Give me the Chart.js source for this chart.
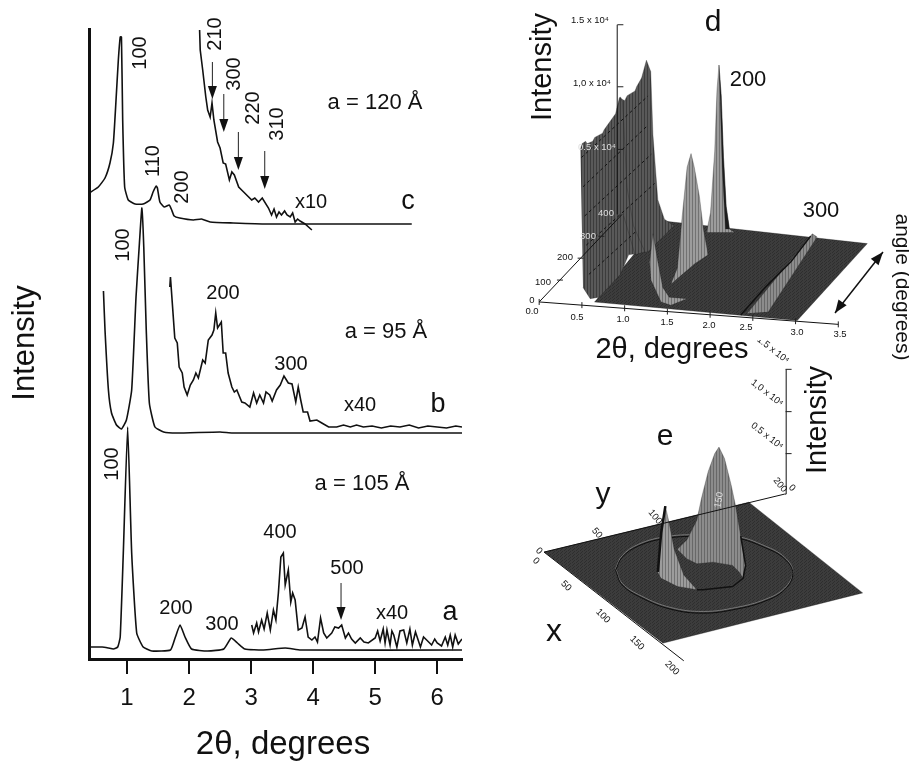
<!DOCTYPE html>
<html>
<head>
<meta charset="utf-8">
<title>Diffraction patterns</title>
<script src="https://cdn.jsdelivr.net/npm/chart.js@4"></script>
<style>
    body { margin: 0; background: #fff; }
    canvas { position: absolute; }
</style>
</head>
<body>
<canvas id="grafica-izq" width="500" height="764" style="left:0;top:0"></canvas>
<canvas id="grafica-d" width="409" height="380" style="left:500px;top:0"></canvas>
<canvas id="grafica-e" width="409" height="360" style="left:500px;top:340px"></canvas>
<script>
// panel izquierdo: 2theta (grados) e intensidad en unidades arbitrarias, curvas desplazadas
const ticks2theta = [1, 2, 3, 4, 5, 6];

const aX = [0.39, 0.6, 0.7, 0.78, 0.85, 0.89, 0.94, 1.01, 1.075, 1.156, 1.26, 1.4, 1.7, 1.78, 1.855, 1.935, 2.04, 2.3, 2.56, 2.68, 2.78, 2.9, 3.2, 3.55, 3.8, 6.4];
const aY = [12, 12, 11, 10, 12, 22, 106, 232, 106, 26, 12, 8, 9, 22, 34, 22, 10, 8, 10, 21, 16, 10, 9, 11, 9, 9];

const aX40 = [3.01, 3.04, 3.09, 3.12, 3.17, 3.21, 3.26, 3.31, 3.36, 3.40, 3.44, 3.48, 3.52, 3.55, 3.60, 3.64, 3.67, 3.71, 3.76, 3.82, 3.87, 3.92, 3.98, 4.03, 4.07, 4.12, 4.17, 4.22, 4.30, 4.35, 4.41, 4.46, 4.52, 4.57, 4.62, 4.68, 4.76, 4.82, 4.89, 5.0, 5.04, 5.08, 5.13, 5.16, 5.19, 5.24, 5.27, 5.30, 5.35, 5.40, 5.46, 5.51, 5.56, 5.60, 5.65, 5.73, 5.78, 5.83, 5.91, 5.96, 6.0, 6.07, 6.13, 6.17, 6.21, 6.25, 6.29, 6.34, 6.40];
const aY40 = [34, 26, 36, 27, 39, 30, 46, 29, 49, 39, 66, 102, 106, 74, 89, 57, 66, 59, 29, 31, 42, 22, 19, 22, 17, 41, 26, 21, 26, 32, 31, 34, 21, 26, 20, 16, 21, 17, 16, 21, 28, 18, 30, 16, 29, 14, 28, 24, 12, 28, 29, 16, 30, 14, 27, 12, 22, 19, 14, 20, 16, 13, 22, 14, 24, 12, 24, 15, 20];

const bX = [0.62, 0.645, 0.70, 0.75, 0.83, 0.91, 0.99, 1.075, 1.145, 1.2, 1.24, 1.27, 1.31, 1.36, 1.45, 1.59, 1.8, 2.5, 2.7, 6.4];
const bY = [368, 329, 269, 246, 234, 230, 239, 269, 362, 416, 451, 412, 329, 256, 232, 227, 226, 227, 226, 226];

const bX40 = [1.69, 1.70, 1.77, 1.81, 1.84, 1.89, 1.92, 1.97, 2.02, 2.07, 2.11, 2.15, 2.22, 2.26, 2.31, 2.37, 2.40, 2.43, 2.46, 2.52, 2.55, 2.59, 2.63, 2.69, 2.73, 2.77, 2.85, 2.90, 2.98, 3.04, 3.09, 3.14, 3.20, 3.24, 3.30, 3.34, 3.41, 3.47, 3.53, 3.60, 3.66, 3.72, 3.76, 3.80, 3.84, 3.91, 3.95, 4.06, 4.14, 4.25, 4.38, 4.49, 4.60, 4.70, 4.81, 4.95, 5.10, 5.25, 5.40, 5.55, 5.70, 5.85, 6.0, 6.15, 6.30, 6.40];
const bY40 = [372, 382, 321, 316, 292, 286, 272, 264, 274, 279, 286, 281, 299, 296, 319, 324, 329, 346, 331, 337, 306, 306, 286, 272, 267, 269, 257, 256, 252, 266, 256, 264, 256, 267, 264, 258, 269, 274, 283, 276, 275, 257, 272, 259, 247, 247, 238, 239, 236, 232, 232, 234, 232, 234, 232, 233, 231, 233, 232, 234, 231, 233, 232, 231, 233, 232];

const cX = [0.39, 0.537, 0.645, 0.725, 0.78, 0.82, 0.86, 0.89, 0.91, 0.93, 0.962, 1.02, 1.13, 1.26, 1.37, 1.42, 1.47, 1.49, 1.53, 1.6, 1.68, 1.72, 1.76, 1.85, 2.07, 2.2, 2.34, 2.71, 3.25, 5.59];
const cY = [466, 472, 481, 496, 516, 556, 599, 622, 622, 539, 472, 459, 455, 455, 459, 467, 473, 471, 457, 452, 454, 449, 443, 441, 439, 440, 437, 436, 435, 435];

const cX10 = [2.17, 2.18, 2.22, 2.27, 2.3, 2.34, 2.37, 2.40, 2.46, 2.5, 2.55, 2.59, 2.65, 2.69, 2.73, 2.8, 2.88, 3.01, 3.06, 3.12, 3.18, 3.28, 3.33, 3.37, 3.41, 3.45, 3.49, 3.54, 3.58, 3.63, 3.67, 3.71, 3.75, 3.79, 3.87, 3.98];
const cY10 = [629, 609, 589, 562, 549, 542, 556, 539, 517, 511, 496, 495, 479, 487, 484, 472, 467, 459, 461, 457, 461, 451, 444, 450, 442, 447, 444, 448, 444, 442, 446, 437, 440, 438, 435, 429];

// flechas de reflexiones: posicion 2theta, intensidad inicial y final
const flechaX = [2.376, 2.56, 2.795, 3.22, 4.45];
const flechaDesde = [597, 565, 527, 508, 76];
const flechaHasta = [560, 527, 489, 470, 39];

// panel d: proyeccion de la superficie sobre 2theta (grados) / intensidad (x 10^4)
const planoDX = [0.646, 3.02, 3.84, 1.43];
const planoDY = [0, -0.146, 0.461, 0.641];
const paredX = [0.483, 0.50, 0.544, 0.56, 0.627, 0.65, 0.742, 0.76, 0.894, 0.939, 1.0, 1.03, 1.122, 1.14, 1.198, 1.255, 1.305, 1.331, 1.388, 1.465, 1.579, 1.274, 1.046, 0.951, 0.703, 0.597, 0.513];
const paredY = [1.205, 1.25, 1.269, 1.25, 1.269, 1.30, 1.333, 1.36, 1.487, 1.615, 1.590, 1.63, 1.667, 1.70, 1.769, 1.910, 1.820, 1.320, 0.808, 0.654, 0.602, 0.397, 0.372, 0.218, 0.038, 0.026, 0.115];
const ribeteX = [0.913, 0.951, 0.977, 1.027, 1.103, 1.236, 1.122, 0.989];
const ribeteY = [1.525, 1.620, 1.577, 0.910, 0.602, 0.397, 0.372, 0.679];
const picoAX = [1.959, 2.005, 2.054, 2.081, 2.104, 2.130, 2.157, 2.188, 2.226, 2.283];
const picoAY = [0.551, 0.705, 1.192, 1.679, 1.872, 1.628, 1.141, 0.756, 0.577, 0.551];
const sombraAX = [2.104, 2.130, 2.157, 2.188, 2.226, 2.180, 2.142, 2.119];
const sombraAY = [1.872, 1.628, 1.141, 0.756, 0.577, 0.577, 1.064, 1.577];
const picoBX = [1.541, 1.617, 1.674, 1.731, 1.777, 1.815, 1.875, 1.921, 1.978, 1.807];
const picoBY = [0.141, 0.269, 0.679, 1.064, 1.172, 1.064, 0.833, 0.577, 0.372, 0.295];
const picoCX = [1.293, 1.331, 1.381, 1.446, 1.522, 1.731, 1.541, 1.426, 1.312];
const picoCY = [0.320, 0.538, 0.346, 0.115, 0.038, 0.026, -0.026, 0, 0.167];
const cresta300X = [2.435, 3.196, 3.253, 2.682];
const cresta300Y = [-0.090, 0.538, 0.513, -0.077];
const borde300X = [2.359, 2.644, 2.948, 3.177];
const borde300Y = [-0.103, 0.115, 0.320, 0.520];
const ticksDX = [0, 0.5, 1, 1.5, 2, 2.5, 3, 3.5];
const ticksDY = [0, -0.025, -0.05, -0.076, -0.101, -0.126, -0.152, -0.177];
const ticksAnguloX = [0.243, 0.485, 0.728];
const ticksAnguloY = [0.173, 0.346, 0.519];
const ticksIntensidad = [1.205, 1.70, 2.19];
// curvas de nivel discontinuas sobre la pared
const nivelesX = [[0.494, 1.274], [0.513, 1.274], [0.532, 1.312], [0.551, 1.350], [0.582, 1.122]];
const nivelesY = [[1.141, 1.628], [0.910, 1.397], [0.679, 1.167], [0.449, 0.936], [0.218, 0.551]];

// panel e: posicion proyectada en el plano x-y / intensidad (x 10^4)
const planoEX = [0, 170, 264.5, 98.5];
const planoEY = [0, 0.597, -0.488, -1.09];
const anilloX = [59.4, 64.8, 78.3, 99.9, 126.9, 159.2, 183.5, 199.7, 206.5, 199.7, 183.5, 159.2, 132.2, 105.3, 81, 64.8, 59.4];
const anilloY = [-0.198, -0.043, 0.093, 0.182, 0.209, 0.190, 0.073, -0.062, -0.237, -0.430, -0.566, -0.663, -0.710, -0.663, -0.527, -0.372, -0.198];
const picoGrandeX = [110.7, 118.8, 126.9, 130.9, 136.3, 141.7, 145.2, 149.8, 155.2, 159.2, 163.3, 167.3, 165.2, 161.9, 156.5, 140.3, 126.9, 118.8];
const picoGrandeY = [0.035, 0.151, 0.384, 0.655, 0.965, 1.178, 1.256, 1.120, 0.810, 0.539, 0.190, -0.159, -0.314, -0.237, -0.159, -0.120, -0.140, -0.082];
const picoChicoX = [94.5, 97.2, 100.7, 103.9, 108, 116, 126.9, 110.7, 97.2];
const picoChicoY = [-0.237, 0.228, 0.550, 0.345, 0.035, -0.275, -0.450, -0.411, -0.314];
const filoChicoX = [94.5, 97.2, 100.7];
const filoChicoY = [-0.237, 0.228, 0.550];
const filoGrandeX = [163.3, 167.3, 165.2, 156.5, 132, 126.9];
const filoGrandeY = [0.190, -0.159, -0.314, -0.411, -0.450, -0.450];
const ejeEX = [116, 0, 199.7, 201, 201];
const ejeEY = [-1.3, 0, 0.694, 0.694, 2.186];
const ticksEIntensidad = [1.178, 1.68, 2.186];

const FUENTE = '"Liberation Sans", Arial, sans-serif';

const puntos = (xs, ys) => xs.map((x, i) => ({ x, y: ys[i] }));

function trama(fondo, raya, ancho, alto, dibujar) {
    const c = document.createElement('canvas');
    c.width = ancho;
    c.height = alto;
    const g = c.getContext('2d');
    g.fillStyle = fondo;
    g.fillRect(0, 0, ancho, alto);
    g.fillStyle = raya;
    dibujar(g);
    return g.createPattern(c, 'repeat');
}

const tramaOscura = trama('#3c3c3c', '#2e2e2e', 4, 3, g => { g.fillRect(0, 0, 1, 1); g.fillRect(2, 1, 1, 1); g.fillRect(1, 2, 1, 1); });
const tramaPared = trama('#595959', '#3c3c3c', 3, 3, g => { g.fillRect(0, 0, 1, 3); });
const tramaClara = trama('#9c9c9c', '#727272', 3, 3, g => { g.fillRect(0, 0, 1, 3); });
const tramaMedia = trama('#8c8c8c', '#686868', 3, 3, g => { g.fillRect(0, 0, 1, 3); });

function curva(xs, ys, ancho, tension) {
    return { data: puntos(xs, ys), borderColor: '#111', borderWidth: ancho, pointRadius: 0, tension: tension || 0, fill: false };
}

function poligono(xs, ys, relleno) {
    return { data: puntos(xs, ys), borderColor: 'rgba(30,30,30,0.6)', borderWidth: 0.5, backgroundColor: relleno, fill: 'shape', pointRadius: 0, tension: 0 };
}

function marcas(xs, ys, giro) {
    return { data: puntos(xs, ys), showLine: false, pointStyle: 'line', pointRadius: 3, pointRotation: giro, pointBorderColor: '#222', pointBorderWidth: 1 };
}

function textos(lista) {
    return {
        id: 'textos',
        afterDraw(chart) {
            const ctx = chart.ctx;
            lista.forEach(t => {
                ctx.save();
                ctx.translate(t.x, t.y);
                ctx.rotate((t.giro || 0) * Math.PI / 180);
                ctx.font = `${t.size}px ${FUENTE}`;
                ctx.fillStyle = t.color || '#111';
                ctx.textAlign = 'center';
                ctx.textBaseline = 'middle';
                ctx.fillText(t.txt, 0, 0);
                ctx.restore();
            });
        }
    };
}

function punta(ctx, x0, y0, x1, y1, largo, medio) {
    const a = Math.atan2(y1 - y0, x1 - x0);
    ctx.save();
    ctx.translate(x1, y1);
    ctx.rotate(a);
    ctx.beginPath();
    ctx.moveTo(0, 0);
    ctx.lineTo(-largo, -medio);
    ctx.lineTo(-largo, medio);
    ctx.closePath();
    ctx.fill();
    ctx.restore();
}

const flechasIzq = {
    id: 'flechas',
    afterDatasetsDraw(chart) {
        const { ctx, scales } = chart;
        ctx.save();
        ctx.strokeStyle = '#222';
        ctx.fillStyle = '#111';
        ctx.lineWidth = 1;
        flechaX.forEach((v, i) => {
            const x = scales.x.getPixelForValue(v);
            const y0 = scales.y.getPixelForValue(flechaDesde[i]);
            const y1 = scales.y.getPixelForValue(flechaHasta[i]);
            ctx.beginPath();
            ctx.moveTo(x, y0);
            ctx.lineTo(x, y1 - 8);
            ctx.stroke();
            punta(ctx, x, y0, x, y1, 13, 4.5);
        });
        ctx.restore();
    }
};

const flechaAngulo = {
    id: 'flechaAngulo',
    afterDatasetsDraw(chart) {
        const ctx = chart.ctx;
        ctx.save();
        ctx.strokeStyle = '#111';
        ctx.fillStyle = '#111';
        ctx.lineWidth = 1.5;
        ctx.beginPath();
        ctx.moveTo(335, 313);
        ctx.lineTo(383, 252);
        ctx.stroke();
        punta(ctx, 340, 306, 335, 313, 13, 5);
        punta(ctx, 378, 258, 383, 252, 13, 5);
        ctx.restore();
    }
};

const opcionesBase = {
    responsive: false,
    animation: false,
    events: [],
    plugins: { legend: { display: false }, tooltip: { enabled: false } }
};

new Chart(document.getElementById('grafica-izq').getContext('2d'), {
    type: 'line',
    data: {
        datasets: [
            curva(cX, cY, 1.6, 0.15),
            curva(cX10, cY10, 1.6),
            curva(bX, bY, 1.6, 0.15),
            curva(bX40, bY40, 1.6),
            curva(aX, aY, 1.6, 0.15),
            curva(aX40, aY40, 1.6)
        ]
    },
    options: {
        ...opcionesBase,
        layout: { padding: { left: 89, right: 38, top: 29, bottom: 0 } },
        scales: {
            x: {
                type: 'linear',
                min: 0.387,
                max: 6.4,
                afterFit: s => { s.height = 105; },
                afterBuildTicks: s => { s.ticks = ticks2theta.map(v => ({ value: v })); },
                border: { color: '#111', width: 3 },
                grid: { drawOnChartArea: false, tickLength: 15, color: '#111', lineWidth: 2 },
                ticks: { color: '#111', font: { family: FUENTE, size: 24 }, padding: 10, maxRotation: 0, autoSkip: false }
            },
            y: {
                min: 0,
                max: 630,
                afterFit: s => { s.width = 0; },
                border: { color: '#111', width: 3 },
                grid: { display: false },
                ticks: { display: false }
            }
        }
    },
    plugins: [flechasIzq, textos([
        { txt: 'Intensity', x: 25, y: 343, size: 31, giro: -90 },
        { txt: '2θ, degrees', x: 283, y: 745, size: 33 },
        { txt: '100', x: 140, y: 53, size: 20, giro: -90 },
        { txt: '210', x: 215, y: 34, size: 20, giro: -90 },
        { txt: '300', x: 234, y: 74, size: 20, giro: -90 },
        { txt: '220', x: 253, y: 108, size: 20, giro: -90 },
        { txt: '310', x: 277, y: 124, size: 20, giro: -90 },
        { txt: '110', x: 153, y: 161, size: 20, giro: -90 },
        { txt: '200', x: 182, y: 187, size: 20, giro: -90 },
        { txt: 'x10', x: 311, y: 202, size: 20 },
        { txt: 'c', x: 408, y: 202, size: 27 },
        { txt: 'a = 120 Å', x: 375, y: 103, size: 22 },
        { txt: '100', x: 123, y: 245, size: 20, giro: -90 },
        { txt: '200', x: 223, y: 293, size: 20 },
        { txt: '300', x: 291, y: 364, size: 20 },
        { txt: 'a = 95 Å', x: 386, y: 332, size: 22 },
        { txt: 'x40', x: 360, y: 405, size: 20 },
        { txt: 'b', x: 438, y: 405, size: 27 },
        { txt: '100', x: 112, y: 464, size: 20, giro: -90 },
        { txt: 'a = 105 Å', x: 362, y: 484, size: 22 },
        { txt: '400', x: 280, y: 532, size: 20 },
        { txt: '500', x: 347, y: 568, size: 20 },
        { txt: 'x40', x: 392, y: 613, size: 20 },
        { txt: 'a', x: 450, y: 613, size: 27 },
        { txt: '200', x: 176, y: 608, size: 20 },
        { txt: '300', x: 222, y: 624, size: 20 }
    ])]
});

const nivelesD = nivelesX.map((xs, i) => ({
    ...curva(xs, nivelesY[i], 1),
    borderDash: [3, 3]
}));

// Chart.js pinta el primer dataset encima: se invierte para listar de fondo a frente
new Chart(document.getElementById('grafica-d').getContext('2d'), {
    type: 'line',
    data: {
        datasets: [
            poligono(planoDX, planoDY, tramaOscura),
            poligono(cresta300X, cresta300Y, tramaMedia),
            curva(borde300X, borde300Y, 1.5),
            poligono(paredX, paredY, tramaPared),
            poligono(ribeteX, ribeteY, tramaPared),
            ...nivelesD,
            poligono(picoAX, picoAY, tramaClara),
            poligono(sombraAX, sombraAY, '#1c1c1c'),
            poligono(picoBX, picoBY, tramaClara),
            poligono(picoCX, picoCY, tramaClara),
            curva([0, 3.5], [0, -0.177], 1),
            curva([0, 0.97], [0, 0.692], 1),
            curva([0.913, 0.913], [0.692, 2.19], 1),
            marcas(ticksDX, ticksDY, 90),
            marcas(ticksAnguloX, ticksAnguloY, 0),
            marcas(ticksIntensidad.map(() => 0.95), ticksIntensidad, 0)
        ].reverse()
    },
    options: {
        ...opcionesBase,
        scales: {
            x: { type: 'linear', display: false, min: -0.4, max: 4.269 },
            y: { display: false, min: -0.577, max: 2.346 }
        }
    },
    plugins: [flechaAngulo, textos([
        { txt: 'Intensity', x: 43, y: 67, size: 29, giro: -90 },
        { txt: 'd', x: 213, y: 23, size: 30 },
        { txt: '200', x: 248, y: 80, size: 22 },
        { txt: '300', x: 321, y: 211, size: 22 },
        { txt: '2θ, degrees', x: 172, y: 350, size: 29 },
        { txt: 'angle (degrees)', x: 402, y: 287, size: 21, giro: 90 },
        { txt: '1.5 x 10⁴', x: 90, y: 20, size: 9.5 },
        { txt: '1,0 x 10⁴', x: 92, y: 83, size: 9.5 },
        { txt: '0.5 x 10⁴', x: 97, y: 147, size: 9.5, color: '#ddd' },
        { txt: '400', x: 106, y: 213, size: 9.5, color: '#ddd' },
        { txt: '300', x: 88, y: 236, size: 9.5, color: '#ddd' },
        { txt: '200', x: 65, y: 257, size: 9.5 },
        { txt: '100', x: 43, y: 282, size: 9.5 },
        { txt: '0', x: 32, y: 300, size: 9.5 },
        { txt: '0.0', x: 32, y: 311, size: 9.5 },
        { txt: '0.5', x: 77, y: 317, size: 9.5 },
        { txt: '1.0', x: 123, y: 319, size: 9.5 },
        { txt: '1.5', x: 167, y: 322, size: 9.5 },
        { txt: '2.0', x: 209, y: 325, size: 9.5 },
        { txt: '2.5', x: 246, y: 327, size: 9.5 },
        { txt: '3.0', x: 297, y: 332, size: 9.5 },
        { txt: '3.5', x: 340, y: 334, size: 9.5 }
    ])]
});

new Chart(document.getElementById('grafica-e').getContext('2d'), {
    type: 'line',
    data: {
        datasets: [
            poligono(planoEX, planoEY, tramaOscura),
            { ...curva(anilloX, anilloY, 1, 0.4), borderColor: '#777' },
            { ...curva(anilloX, anilloY.map(v => v - 0.02), 1, 0.4), borderColor: '#0c0c0c' },
            poligono(picoGrandeX, picoGrandeY, tramaMedia),
            poligono(picoChicoX, picoChicoY, tramaClara),
            curva(filoChicoX, filoChicoY, 2.5),
            curva(filoGrandeX, filoGrandeY, 1.5),
            curva(ejeEX, ejeEY, 1),
            marcas(ticksEIntensidad.map(() => 203), ticksEIntensidad, 0)
        ].reverse()
    },
    options: {
        ...opcionesBase,
        scales: {
            x: { type: 'linear', display: false, min: -32.4, max: 298.8 },
            y: { display: false, min: -1.709, max: 2.477 }
        }
    },
    plugins: [textos([
        { txt: 'Intensity', x: 318, y: 80, size: 29, giro: -90 },
        { txt: 'e', x: 165, y: 97, size: 30 },
        { txt: 'y', x: 103, y: 155, size: 30 },
        { txt: 'x', x: 54, y: 292, size: 32 },
        { txt: '1.5 x 10⁴', x: 273, y: 10, size: 9.5, giro: 38 },
        { txt: '1,0 x 10⁴', x: 267, y: 53, size: 9.5, giro: 38 },
        { txt: '0.5 x 10⁴', x: 267, y: 96, size: 9.5, giro: 38 },
        { txt: '0', x: 292, y: 148, size: 9.5, giro: 45 },
        { txt: '200', x: 280, y: 145, size: 9.5, giro: 50 },
        { txt: '150', x: 219, y: 160, size: 9.5, giro: -80, color: '#ddd' },
        { txt: '100', x: 155, y: 177, size: 9.5, giro: 50 },
        { txt: '50', x: 97, y: 193, size: 9.5, giro: 50 },
        { txt: '0', x: 39, y: 211, size: 9.5, giro: 45 },
        { txt: '0', x: 36, y: 221, size: 9.5, giro: 45 },
        { txt: '50', x: 66, y: 246, size: 9.5, giro: 45 },
        { txt: '100', x: 103, y: 276, size: 9.5, giro: 45 },
        { txt: '150', x: 137, y: 303, size: 9.5, giro: 45 },
        { txt: '200', x: 172, y: 328, size: 9.5, giro: 45 }
    ])]
});
</script>
</body>
</html>
